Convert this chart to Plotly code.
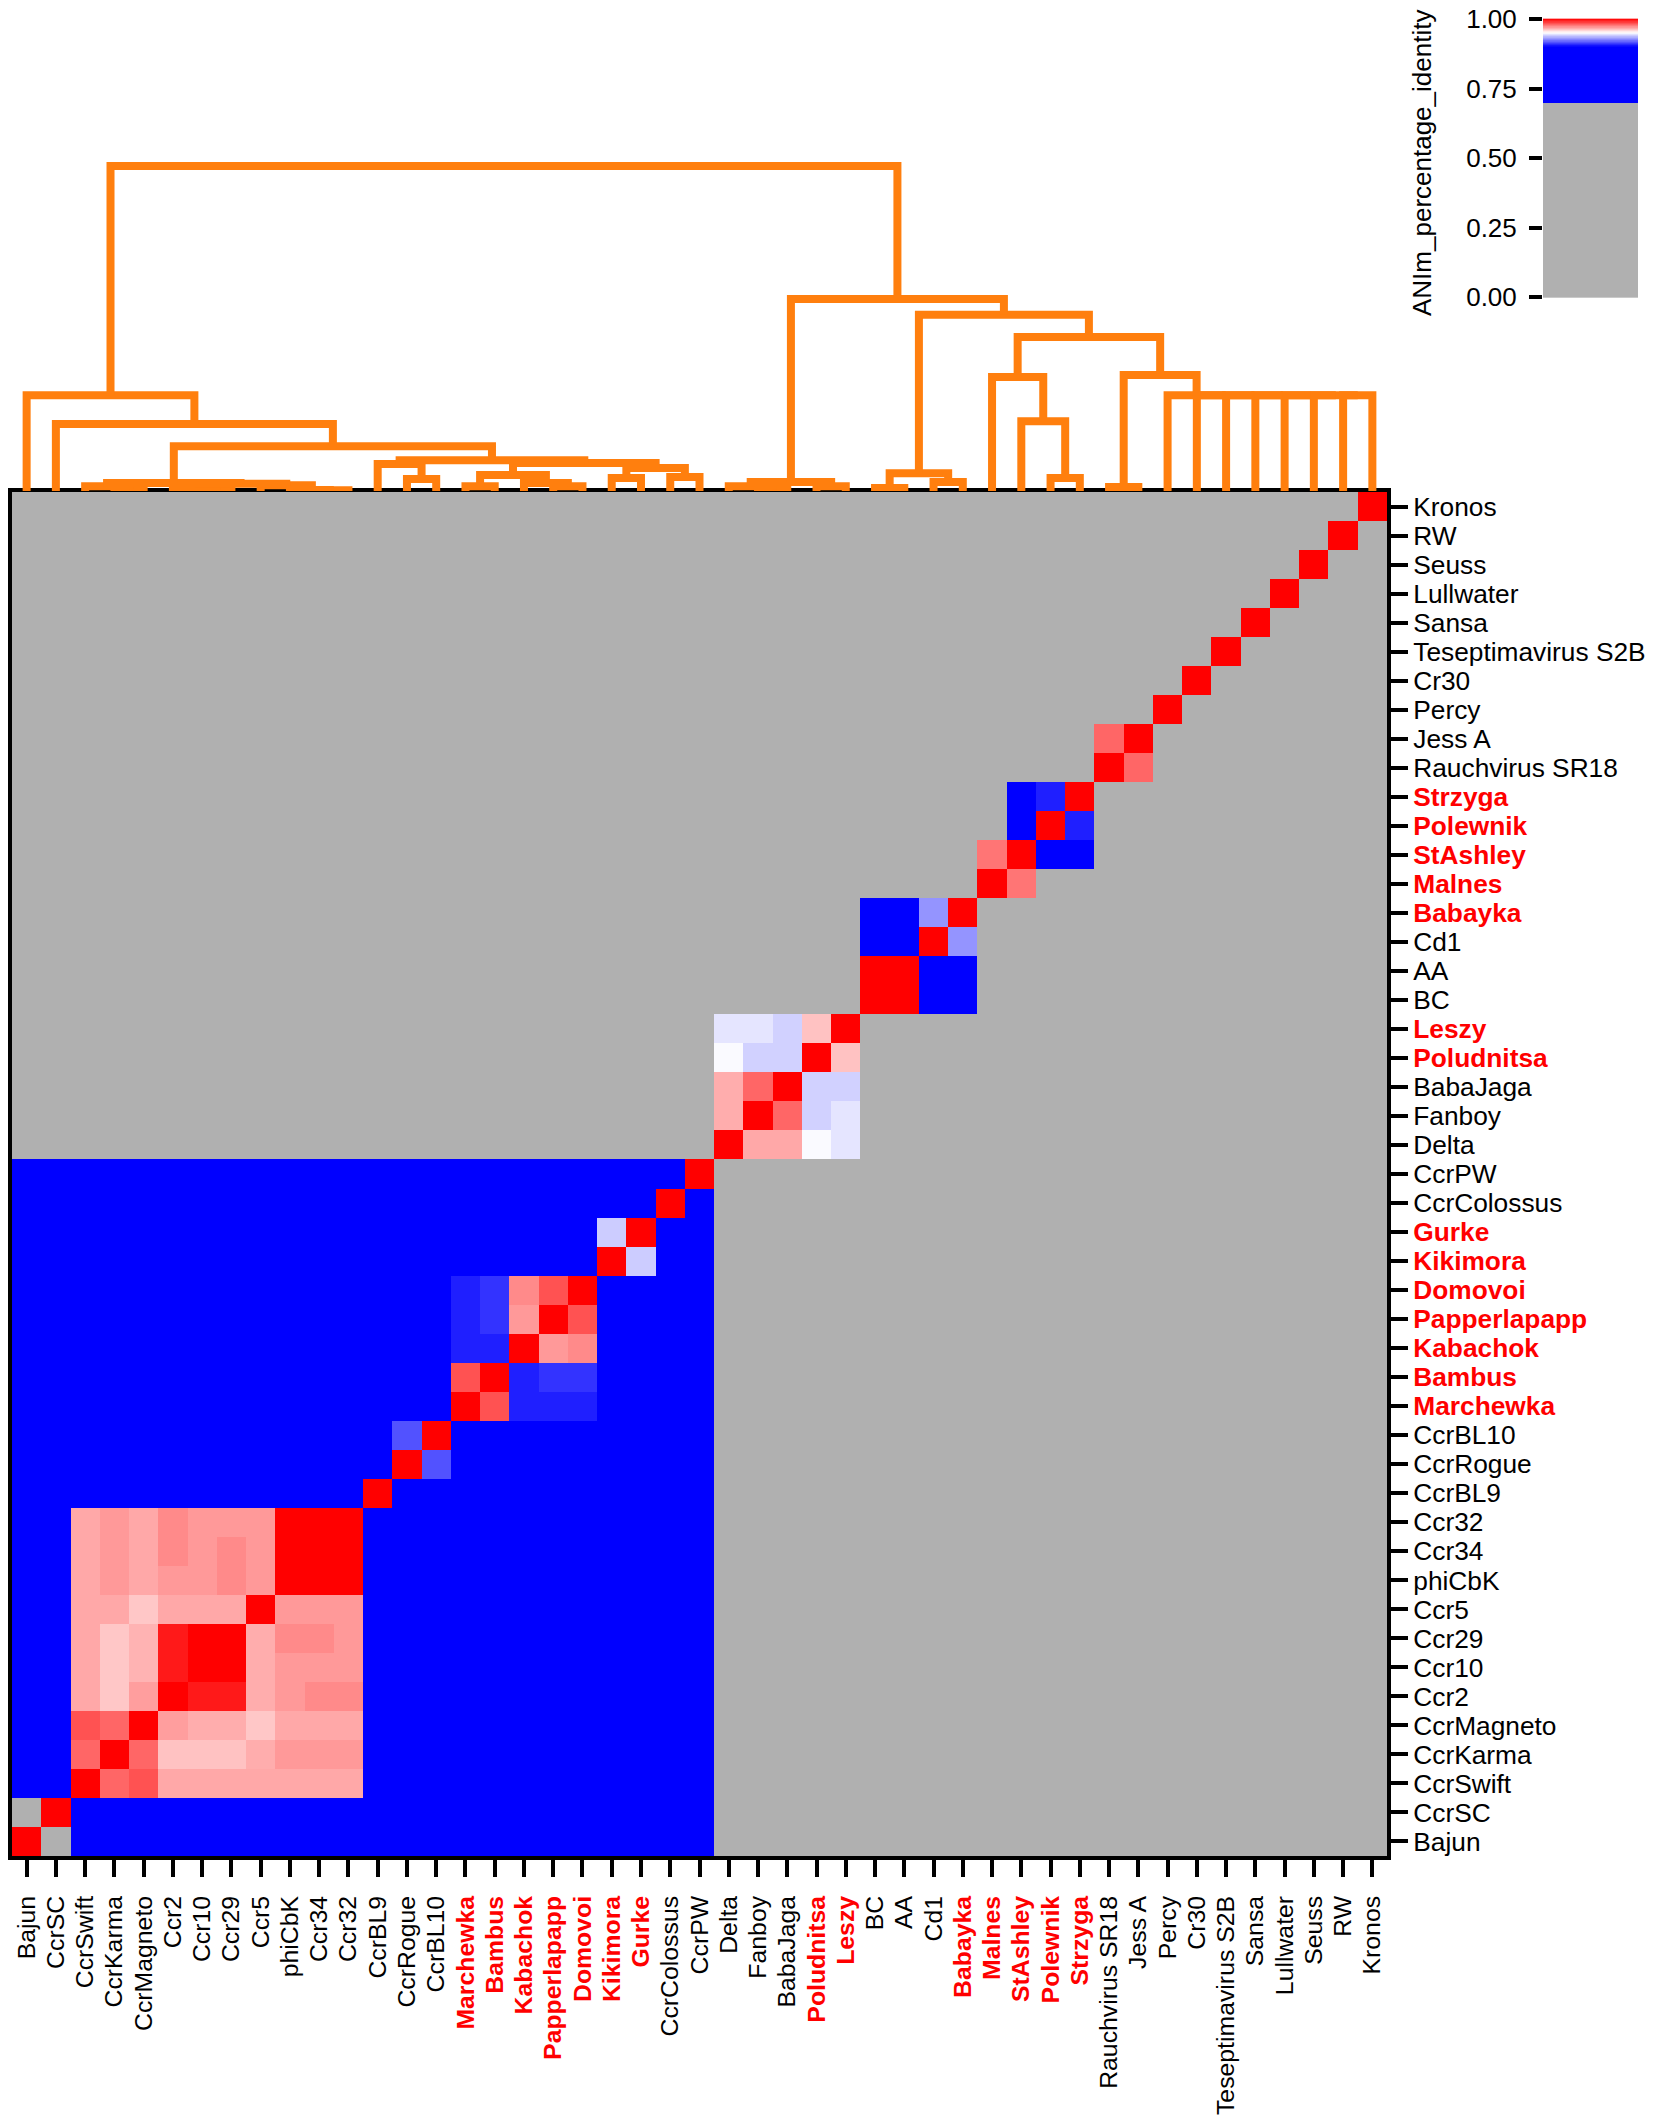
import numpy as np
import plotly.graph_objects as go

# genome order, bottom-left to top-right of the heatmap
genomes = ["Bajun", "CcrSC", "CcrSwift", "CcrKarma", "CcrMagneto", "Ccr2", "Ccr10", "Ccr29", "Ccr5", "phiCbK",
           "Ccr34", "Ccr32", "CcrBL9", "CcrRogue", "CcrBL10", "Marchewka", "Bambus", "Kabachok", "Papperlapapp",
           "Domovoi", "Kikimora", "Gurke", "CcrColossus", "CcrPW", "Delta", "Fanboy", "BabaJaga", "Poludnitsa",
           "Leszy", "BC", "AA", "Cd1", "Babayka", "Malnes", "StAshley", "Polewnik", "Strzyga", "Rauchvirus SR18",
           "Jess A", "Percy", "Cr30", "Teseptimavirus S2B", "Sansa", "Lullwater", "Seuss", "RW", "Kronos"]
new_genomes = ["Marchewka", "Bambus", "Kabachok", "Papperlapapp", "Domovoi", "Kikimora", "Gurke", "Poludnitsa",
               "Leszy", "Babayka", "Malnes", "StAshley", "Polewnik", "Strzyga"]

# identity blocks, rows go bottom to top, first index is where the block starts
ccr_start = 2
ccr_block = [
    [1.000, 0.980, 0.984, 0.967, 0.967, 0.967, 0.967, 0.967, 0.967, 0.967],
    [0.980, 1.000, 0.980, 0.962, 0.962, 0.962, 0.966, 0.970, 0.970, 0.970],
    [0.984, 0.980, 1.000, 0.969, 0.966, 0.966, 0.961, 0.967, 0.967, 0.967],
    [0.967, 0.961, 0.969, 1.000, 0.995, 0.995, 0.966, 0.970, 0.973, 0.973],
    [0.967, 0.961, 0.965, 0.995, 1.000, 1.000, 0.966, 0.970, 0.970, 0.970],
    [0.967, 0.961, 0.965, 0.995, 1.000, 1.000, 0.966, 0.973, 0.973, 0.970],
    [0.967, 0.967, 0.961, 0.967, 0.967, 0.967, 1.000, 0.970, 0.970, 0.970],
    [0.967, 0.970, 0.967, 0.970, 0.970, 0.973, 0.970, 1.000, 1.000, 1.000],
    [0.967, 0.970, 0.967, 0.973, 0.970, 0.973, 0.970, 1.000, 1.000, 1.000],
    [0.967, 0.970, 0.967, 0.973, 0.970, 0.970, 0.970, 1.000, 1.000, 1.000],
]
bl_start = 13
bl_block = [[1.000, 0.916], [0.916, 1.000]]
march_start = 15
march_block = [
    [1.000, 0.984, 0.906, 0.906, 0.906],
    [0.984, 1.000, 0.906, 0.910, 0.910],
    [0.906, 0.906, 1.000, 0.970, 0.973],
    [0.906, 0.910, 0.970, 1.000, 0.984],
    [0.906, 0.910, 0.973, 0.984, 1.000],
]
kiki_start = 20
kiki_block = [[1.000, 0.940], [0.940, 1.000]]
delta_start = 24
delta_block = [
    [1.000, 0.967, 0.967, 0.949, 0.945],
    [0.966, 1.000, 0.980, 0.941, 0.945],
    [0.966, 0.980, 1.000, 0.941, 0.941],
    [0.949, 0.941, 0.941, 1.000, 0.962],
    [0.945, 0.945, 0.941, 0.962, 1.000],
]
bc_start = 29
bc_block = [
    [1.000, 1.000, 0.850, 0.850],
    [1.000, 1.000, 0.850, 0.850],
    [0.850, 0.850, 1.000, 0.929],
    [0.850, 0.850, 0.929, 1.000],
]
malnes_start = 33
malnes_block = [
    [1.000, 0.977, 0.000, 0.000],
    [0.977, 1.000, 0.850, 0.850],
    [0.000, 0.850, 1.000, 0.906],
    [0.000, 0.850, 0.906, 1.000],
]
jess_start = 37
jess_block = [[1.000, 0.980], [0.980, 1.000]]

caulo_last = 23       # Bajun .. CcrPW share the blue background
caulo_background = 0.85
no_alignment = 0.0

# dendrogram merges, numbered after the leaves the way a linkage table is
merge_left = [3, 2, 6, 5, 10, 9, 8, 50, 48, 13, 12, 15, 18, 17, 58, 20, 22, 62, 61, 57, 55, 1, 0,
              25, 24, 27, 71, 29, 31, 74, 35, 34, 33, 37, 45, 44, 43, 42, 41, 40, 39, 80, 79, 76, 73, 69]
merge_right = [4, 47, 7, 49, 11, 51, 52, 53, 54, 14, 56, 16, 19, 59, 60, 21, 23, 63, 64, 65, 66, 67, 68,
               26, 70, 28, 72, 30, 32, 75, 36, 77, 78, 38, 46, 81, 82, 83, 84, 85, 86, 87, 88, 89, 90, 91]
merge_height = [0.006, 0.015, 0.003, 0.012, 0.002, 0.003, 0.018, 0.022, 0.025, 0.037, 0.083, 0.015, 0.015,
                0.025, 0.049, 0.040, 0.043, 0.071, 0.086, 0.095, 0.138, 0.206, 0.295,
                0.005, 0.015, 0.015, 0.028, 0.009, 0.028, 0.055, 0.040, 0.215, 0.351, 0.012,
                0.295, 0.295, 0.295, 0.295, 0.295, 0.295, 0.295, 0.357, 0.474, 0.542, 0.591, 1.000]

cbar_ticks = [0, 0.25, 0.5, 0.75, 1]

GRAY = "#b0b0b0"
scale = [[0, GRAY], [0.7, GRAY], [0.7, "#0000ff"], [0.9, "#0000ff"], [0.95, "#ffffff"], [1, "#ff0000"]]
FONT = "Liberation Sans, Arial, sans-serif"
W, H = 1654, 2126


def px_x(a, b):
    return [a / W, b / W]


def px_y(top, bottom):
    return [1 - bottom / H, 1 - top / H]


n = len(genomes)
z = np.full((n, n), no_alignment)
z[:caulo_last + 1, :caulo_last + 1] = caulo_background
z[:2, :2] = no_alignment
np.fill_diagonal(z, 1.0)
for start, block in [(ccr_start, ccr_block), (bl_start, bl_block), (march_start, march_block),
                     (kiki_start, kiki_block), (delta_start, delta_block), (bc_start, bc_block),
                     (malnes_start, malnes_block), (jess_start, jess_block)]:
    b = np.array(block)
    z[start:start + len(b), start:start + len(b)] = b

# walk the merges to get the link outlines
pos = {i: (float(i), 0.0) for i in range(n)}
link_x, link_y = [], []
for k, (l, r, h) in enumerate(zip(merge_left, merge_right, merge_height)):
    xl, yl = pos[l]
    xr, yr = pos[r]
    link_x += [xl, xl, xr, xr, None]
    link_y += [yl, h, h, yr, None]
    pos[n + k] = ((xl + xr) / 2, h)

ticktext = [f'<span style="color:#ff0000"><b>{g}</b></span>' if g in new_genomes else g for g in genomes]

fig = go.Figure()
fig.add_trace(go.Heatmap(z=z.tolist(), x=list(range(n)), y=list(range(n)), colorscale=scale,
                         zmin=0, zmax=1, showscale=False, xaxis="x", yaxis="y"))
fig.add_trace(go.Scatter(x=link_x, y=link_y, mode="lines", line=dict(color="#ff7f0e", width=8),
                         xaxis="x2", yaxis="y2", showlegend=False))
levels = np.linspace(0, 1, 501)
fig.add_trace(go.Heatmap(z=[[v] for v in levels], x=[0], y=levels, colorscale=scale, zmin=0, zmax=1,
                         showscale=False, xaxis="x3", yaxis="y3"))

tick = dict(ticks="outside", ticklen=17, tickwidth=4, tickcolor="black")
fig.update_layout(
    width=W, height=H, margin=dict(l=0, r=0, t=0, b=0, autoexpand=False), paper_bgcolor="white",
    plot_bgcolor="white", showlegend=False, font=dict(family=FONT, size=26, color="black"),
    xaxis=dict(domain=px_x(12, 1387), range=[-0.5, n - 0.5], tickmode="array", tickvals=list(range(n)),
               ticktext=ticktext, tickangle=-90, showgrid=False, zeroline=False, showline=True, mirror=True,
               linecolor="black", linewidth=4, anchor="y", ticklabelstandoff=9,
               tickfont=dict(family=FONT, size=24.8, color="black"), **tick),
    yaxis=dict(domain=px_y(492, 1856), range=[-0.5, n - 0.5], tickmode="array", tickvals=list(range(n)),
               ticktext=ticktext, side="right", showgrid=False, zeroline=False, showline=True, mirror=True,
               linecolor="black", linewidth=4, anchor="x",
               tickfont=dict(family=FONT, size=26.3, color="black"), **tick),
    xaxis2=dict(domain=px_x(12, 1387), range=[-0.5, n - 0.5], visible=False, anchor="y2"),
    yaxis2=dict(domain=px_y(150, 491), range=[0, 341 / 325], visible=False, anchor="x2"),
    xaxis3=dict(domain=px_x(1543, 1638), range=[-0.5, 0.5], visible=False, anchor="y3"),
    yaxis3=dict(domain=px_y(17, 300), range=[-0.01, 1.007], tickmode="array", tickvals=cbar_ticks,
                tickformat=".2f", showgrid=False, zeroline=False, anchor="x3", ticklabeloverflow="allow",
                ticks="outside", ticklen=13, tickwidth=4, tickcolor="black", ticklabelstandoff=7,
                tickfont=dict(family=FONT, size=26, color="black")),
    annotations=[dict(text="ANIm_percentage_identity", textangle=-90, showarrow=False, xref="paper", yref="paper",
                      x=1422 / W, y=1 - 163 / H, xanchor="center", yanchor="middle",
                      font=dict(family=FONT, size=26, color="black"))],
)
# drop the browser's default body margin so the figure fills the window
fig.write_html("out.html", config={"displayModeBar": False}, post_script="document.body.style.margin='0';")
